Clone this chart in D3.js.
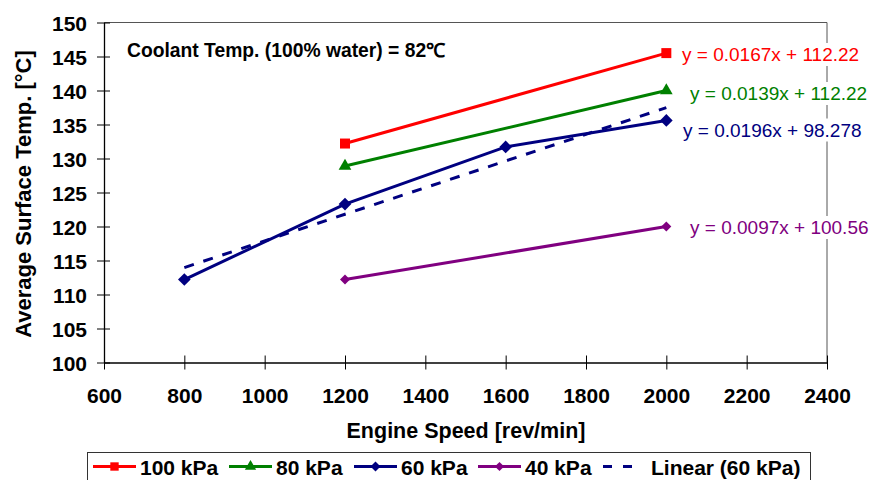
<!DOCTYPE html>
<html>
<head>
<meta charset="utf-8">
<script src="https://cdn.jsdelivr.net/npm/d3@7"></script>
<style>
  body { margin: 0; background: #fff; }
  svg { display: block; }
  text { font-family: "Liberation Sans", Arial, Helvetica, sans-serif; }
</style>
</head>
<body>
<svg id="chart" width="873" height="480"></svg>
<script>
// ---- data ----
const xTickValues = [600, 800, 1000, 1200, 1400, 1600, 1800, 2000, 2200, 2400];
const yTickValues = [100, 105, 110, 115, 120, 125, 130, 135, 140, 145, 150];

const speed100 = [1200, 2000];
const temp100  = [132.2, 145.5];
const speed80  = [1200, 2000];
const temp80   = [128.9, 140.0];
const speed60  = [800, 1200, 1600, 2000];
const temp60   = [112.2, 123.3, 131.7, 135.6];
const speed40  = [1200, 2000];
const temp40   = [112.2, 120.0];

const seriesNames = ["100 kPa", "80 kPa", "60 kPa", "40 kPa"];
const trendName = "Linear (60 kPa)";
const trendSlope60 = 0.0196;
const trendIntercept60 = 98.278;
const trendSpan60 = [800, 2000];

const equationTexts = [
  "y = 0.0167x + 112.22",
  "y = 0.0139x + 112.22",
  "y = 0.0196x + 98.278",
  "y = 0.0097x + 100.56"
];

const xTitle = "Engine Speed [rev/min]";
const yTitle = "Average Surface Temp. [°C]";
const noteText = "Coolant Temp. (100% water) = 82℃";

// ---- styles ----
const seriesStyle = [
  { color: "#ff0000", marker: "square",   size: 100, legendSize: 70 },
  { color: "#008000", marker: "triangle", size: 70,  legendSize: 55 },
  { color: "#000080", marker: "diamond",  size: 80,  legendSize: 50 },
  { color: "#800080", marker: "diamond",  size: 50,  legendSize: 42 }
];
const equationPos = [
  { x: 682, y: 61 },
  { x: 690, y: 100 },
  { x: 683, y: 136.5 },
  { x: 690, y: 234 }
];

const seriesData = [
  d3.zip(speed100, temp100),
  d3.zip(speed80, temp80),
  d3.zip(speed60, temp60),
  d3.zip(speed40, temp40)
];

const svg = d3.select("#chart");

const x = d3.scaleLinear().domain([600, 2400]).range([104, 827]);
const y = d3.scaleLinear().domain([100, 150]).range([362.5, 22.5]);

// marker shapes; the diamond is a square turned 45 degrees
const markerPath = (kind, size) =>
  d3.symbol().type(kind === "triangle" ? d3.symbolTriangle : d3.symbolSquare).size(size)();
const markerRotate = kind => (kind === "diamond" ? " rotate(45)" : "");

// plot-area frame (top and right edges)
svg.append("path")
  .attr("d", `M${x(600)},${y(150)}H${x(2400)}V${y(100)}`)
  .attr("fill", "none")
  .attr("stroke", "#555")
  .attr("stroke-width", 1);

// y axis
const yAxis = svg.append("g")
  .attr("transform", `translate(${x(600)},0)`)
  .call(d3.axisLeft(y).tickValues(yTickValues).tickSize(7).tickPadding(10).tickSizeOuter(0));
yAxis.select(".domain").attr("stroke", "#000").attr("stroke-width", 1.3);
yAxis.selectAll(".tick line").attr("x1", 6).attr("x2", -7).attr("stroke", "#000");
yAxis.selectAll(".tick text")
  .attr("font-size", 21).attr("font-weight", "bold")
  .attr("font-family", "Liberation Sans, Arial, sans-serif")
  .attr("fill", "#000").attr("x", -17).attr("dy", "0.36em");

// x axis
const xAxis = svg.append("g")
  .attr("transform", `translate(0,${y(100)})`)
  .call(d3.axisBottom(x).tickValues(xTickValues).tickFormat(d3.format("d")).tickSize(7).tickSizeOuter(0));
xAxis.select(".domain").attr("stroke", "#000").attr("stroke-width", 1.3);
xAxis.selectAll(".tick line").attr("y1", -7).attr("y2", 7).attr("stroke", "#000");
xAxis.selectAll(".tick text")
  .attr("font-size", 21).attr("font-weight", "bold")
  .attr("font-family", "Liberation Sans, Arial, sans-serif")
  .attr("fill", "#000").attr("y", 40.5).attr("dy", 0);

// axis titles
svg.append("text")
  .attr("x", 466).attr("y", 438)
  .attr("text-anchor", "middle")
  .attr("font-size", 21.5).attr("font-weight", "bold")
  .text(xTitle);

svg.append("text")
  .attr("transform", "translate(31,194) rotate(-90)")
  .attr("text-anchor", "middle")
  .attr("font-size", 22).attr("font-weight", "bold")
  .text(yTitle);

// note inside plot area
svg.append("text")
  .attr("x", 127).attr("y", 57)
  .attr("font-size", 19.3).attr("font-weight", "bold")
  .text(noteText);

// equation labels with white boxes
equationTexts.forEach((t, i) => {
  const g = svg.append("g");
  const bg = g.append("rect").attr("fill", "#fff");
  const txt = g.append("text")
    .attr("x", equationPos[i].x).attr("y", equationPos[i].y)
    .attr("font-size", 19)
    .attr("fill", seriesStyle[i].color)
    .text(t);
  const bb = txt.node().getBBox();
  bg.attr("x", bb.x - 3).attr("y", bb.y - 1).attr("width", bb.width + 6).attr("height", bb.height + 2);
});

// linear trend for 60 kPa
const trendPts = trendSpan60.map(s => [s, trendSlope60 * s + trendIntercept60]);
const line = d3.line().x(d => x(d[0])).y(d => y(d[1]));
svg.append("path")
  .attr("d", line(trendPts))
  .attr("fill", "none")
  .attr("stroke", "#000080")
  .attr("stroke-width", 3)
  .attr("stroke-dasharray", "10,10");

// series lines and markers
seriesData.forEach((data, i) => {
  const st = seriesStyle[i];
  svg.append("path")
    .attr("d", line(data))
    .attr("fill", "none")
    .attr("stroke", st.color)
    .attr("stroke-width", 3);
  svg.append("g").selectAll("path")
    .data(data)
    .join("path")
    .attr("transform", d => `translate(${x(d[0])},${y(d[1])})${markerRotate(st.marker)}`)
    .attr("d", markerPath(st.marker, st.size))
    .attr("fill", st.color);
});

// legend
const legend = svg.append("g");
legend.append("rect")
  .attr("x", 87.5).attr("y", 452.5)
  .attr("width", 723).attr("height", 40)
  .attr("fill", "#fff").attr("stroke", "#333").attr("stroke-width", 1);

const legendLineX = [93, 229, 354, 478];
const legendY = 466.5;
seriesNames.forEach((name, i) => {
  const st = seriesStyle[i];
  const x0 = legendLineX[i];
  legend.append("line")
    .attr("x1", x0).attr("x2", x0 + 43)
    .attr("y1", legendY).attr("y2", legendY)
    .attr("stroke", st.color).attr("stroke-width", 3);
  legend.append("path")
    .attr("transform", `translate(${x0 + 21.5},${legendY})${markerRotate(st.marker)}`)
    .attr("d", markerPath(st.marker, st.legendSize))
    .attr("fill", st.color);
  legend.append("text")
    .attr("x", x0 + 47).attr("y", 475)
    .attr("font-size", 21).attr("font-weight", "bold")
    .text(name);
});
legend.append("line")
  .attr("x1", 603).attr("x2", 640)
  .attr("y1", legendY).attr("y2", legendY)
  .attr("stroke", "#000080").attr("stroke-width", 3)
  .attr("stroke-dasharray", "9,11");
legend.append("text")
  .attr("x", 651).attr("y", 475)
  .attr("font-size", 21).attr("font-weight", "bold")
  .text(trendName);
</script>
</body>
</html>
